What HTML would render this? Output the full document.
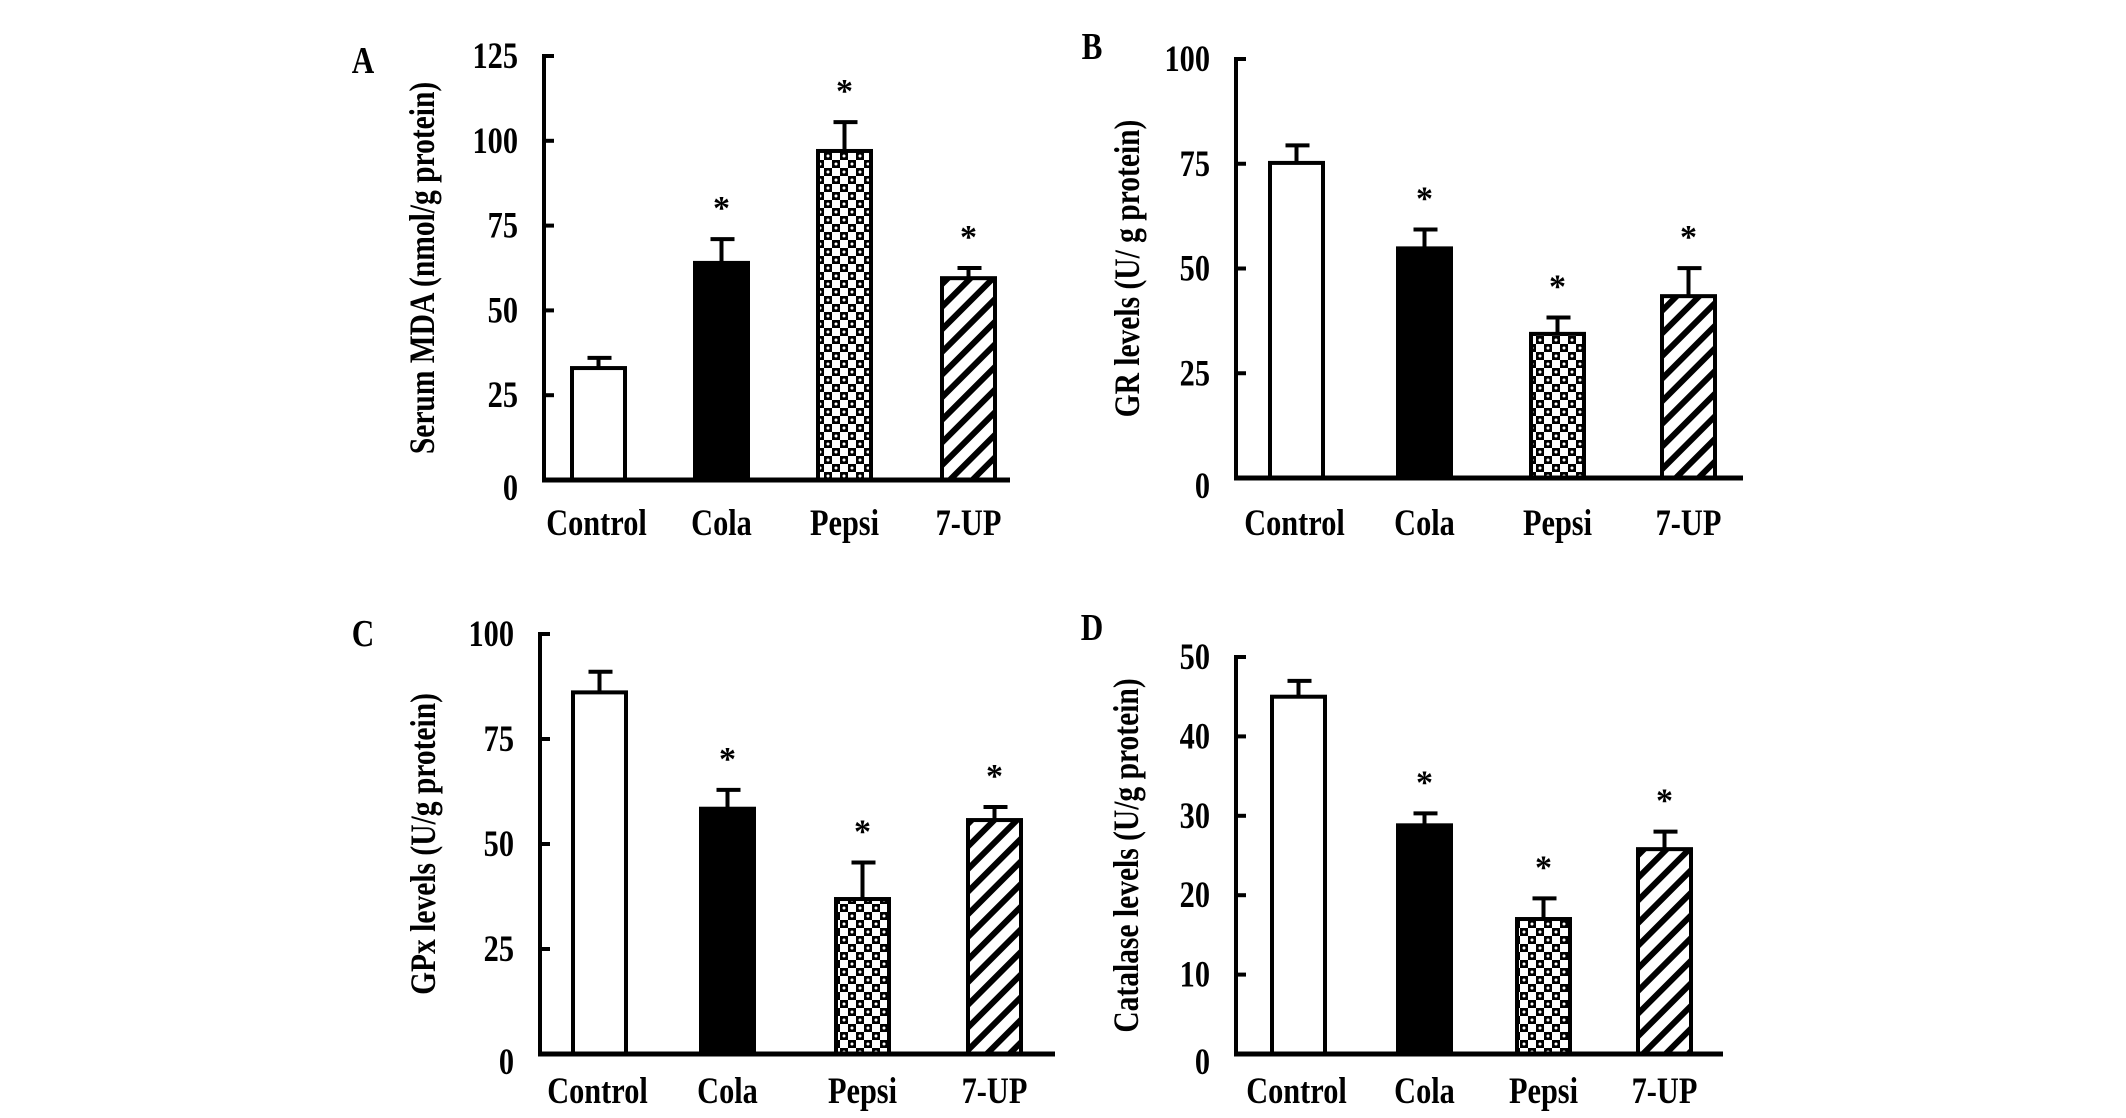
<!DOCTYPE html>
<html><head><meta charset="utf-8"><style>
html,body{margin:0;padding:0;background:#fff;}
svg{display:block;}
text{font-family:"Liberation Serif",serif;font-weight:bold;fill:#000;}
</style></head><body>
<svg id="fig" width="2126" height="1118" viewBox="0 0 2126 1118" xmlns="http://www.w3.org/2000/svg">
<defs>
<pattern id="checker" patternUnits="userSpaceOnUse" width="16" height="16">
<rect width="16" height="16" fill="#fff"/>
<rect x="0" y="0" width="8" height="8" fill="#000"/>
<rect x="8" y="8" width="8" height="8" fill="#000"/>
<circle cx="4" cy="4" r="1.5" fill="#fff"/>
<circle cx="12" cy="12" r="1.5" fill="#fff"/>
</pattern>
<pattern id="stripes" patternUnits="userSpaceOnUse" width="16" height="16" patternTransform="rotate(45)">
<rect width="16" height="16" fill="#fff"/>
<rect x="0" y="0" width="6" height="16" fill="#000"/>
</pattern>
</defs>
</svg>
<script>
const categories = ["Control","Cola","Pepsi","7-UP"];
const valuesA = [33, 64, 97, 59.5];
const errA = [3, 7, 8.5, 3];
const sigA = [false, true, true, true];
const ticksA = [0, 25, 50, 75, 100, 125];
const valuesB = [75.2, 54.8, 34.4, 43.4];
const errB = [4.2, 4.5, 3.9, 6.7];
const sigB = [false, true, true, true];
const ticksB = [0, 25, 50, 75, 100];
const valuesC = [86.1, 58.4, 36.9, 55.7];
const errC = [4.9, 4.5, 8.7, 3.1];
const sigC = [false, true, true, true];
const ticksC = [0, 25, 50, 75, 100];
const valuesD = [45, 28.8, 17, 25.8];
const errD = [2, 1.5, 2.6, 2.2];
const sigD = [false, true, true, true];
const ticksD = [0, 10, 20, 30, 40, 50];

const fills = ["#fff", "#000", "url(#checker)", "url(#stripes)"];
const NS = "http://www.w3.org/2000/svg";
const svg = document.getElementById('fig');
function mk(tag, attrs, parent){
  const e = document.createElementNS(NS, tag);
  for (const k in attrs) e.setAttribute(k, attrs[k]);
  (parent||svg).appendChild(e);
  return e;
}
const SX = 0.82;
function txt(parent, x, y, size, anchor, str, rot){
  const t = mk('text', {x:0, y:0, 'font-size':size, 'text-anchor':anchor,
    transform:'translate('+x+' '+y+')' + (rot ? ' rotate(-90)' : '') + ' scale('+SX+' 1)'}, parent);
  t.textContent = str;
  return t;
}
const panels = [
 {id:'a', letter:'A', lx:363, ly:60, title:'Serum MDA (nmol/g protein)', tx:434, ax:544, top:56, zero:480, end:1010, lefts:[572,695,818,942], base:535, vals:valuesA, err:errA, sig:sigA, ticks:ticksA},
 {id:'b', letter:'B', lx:1092, ly:46, title:'GR levels  (U/ g protein)', tx:1139, ax:1236, top:59, zero:478, end:1743, lefts:[1270,1398,1531,1662], base:535, vals:valuesB, err:errB, sig:sigB, ticks:ticksB},
 {id:'c', letter:'C', lx:363, ly:633, title:'GPx levels (U/g protein)', tx:435, ax:540, top:634, zero:1054, end:1055, lefts:[573,701,836,968], base:1103, vals:valuesC, err:errC, sig:sigC, ticks:ticksC},
 {id:'d', letter:'D', lx:1092, ly:627, title:'Catalase levels (U/g protein)', tx:1138, ax:1236, top:657, zero:1054, end:1723, lefts:[1272,1398,1517,1638], base:1103, vals:valuesD, err:errD, sig:sigD, ticks:ticksD}
];
const BW = 53;
panels.forEach(p => {
  const g = mk('g', {});
  
  
  const max = p.ticks[p.ticks.length-1];
  const y = v => p.zero - (v / max) * (p.zero - p.top);
  const lt = txt(g, p.lx, p.ly+13, 38, 'middle', p.letter, false);
  
  
  const cy = (p.top + p.zero) / 2;
  const tt = txt(g, p.tx, cy, 36, 'middle', p.title, true);
  
  
  p.vals.forEach((v, i) => {
    const x = p.lefts[i];
    const yt = y(v), ye = y(v + p.err[i]);
    const cx = x + BW/2;
    const eb = mk('path', {d:'M'+cx+' '+yt+'V'+ye+'M'+(cx-11)+' '+ye+'H'+(cx+13), stroke:'#000', 'stroke-width':4, fill:'none'}, g);
    
    
    const r = mk('rect', {x:x, y:yt, width:BW, height:p.zero - yt, fill:fills[i], stroke:'#000', 'stroke-width':4}, g);
    
    
    if (p.sig[i]) {
      const s = mk('text', {x:cx, y:ye - 20, 'font-size':34, 'font-weight':'normal', 'text-anchor':'middle'}, g);
      s.textContent = '*';
      
      
    }
    const cl = txt(g, cx + (i===0? -2:0), p.base, 37, 'middle', categories[i], false);
    
    
  });
  const ya = mk('line', {x1:p.ax, y1:p.top-2, x2:p.ax, y2:p.zero, stroke:'#000', 'stroke-width':4}, g);
  
  
  const xa = mk('line', {x1:p.ax-2, y1:p.zero, x2:p.end, y2:p.zero, stroke:'#000', 'stroke-width':5}, g);
  
  
  p.ticks.forEach(t => {
    const ty = y(t);
    if (t !== 0) {
      const tk = mk('line', {x1:p.ax, y1:ty, x2:p.ax+10, y2:ty, stroke:'#000', 'stroke-width':4}, g);
      
      
    }
    const tl = txt(g, p.ax-26, ty + (t===0?20:12), 37, 'end', String(t), false);
    
    
  });
});
</script>
</body></html>
